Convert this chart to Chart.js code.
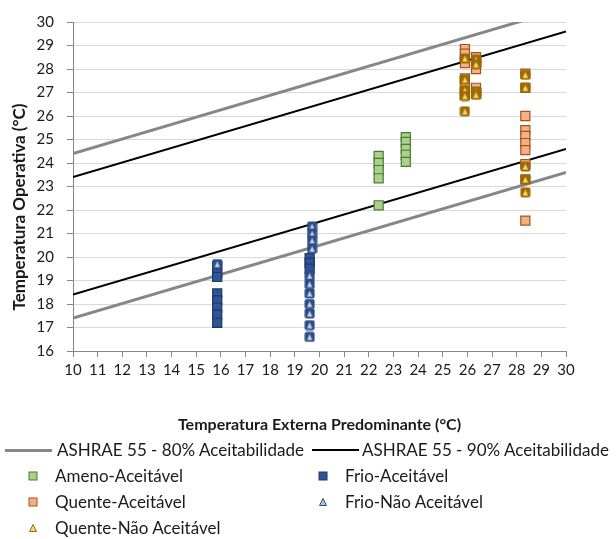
<!DOCTYPE html>
<html>
<head>
<meta charset="utf-8">
<script src="https://cdn.jsdelivr.net/npm/chart.js@4"></script>
<style>
  html, body { margin:0; padding:0; background:#fff; }
  #wrap { position:relative; width:616px; height:539px; overflow:hidden; }
  #c { position:absolute; left:0; top:0; }
  .lg { position:absolute; font-family: Lato, "Liberation Sans", sans-serif; font-size:17px; color:#1a1a1a; white-space:nowrap; line-height:20px; }
  .sym { position:absolute; }
  #ytitle { position:absolute; left:19px; top:207px; transform: translate(-50%, -50%) rotate(-90deg);
            font-family: Lato, "Liberation Sans", sans-serif; font-weight:bold; font-size:17px; color:#1a1a1a; white-space:nowrap; line-height:20px; }
</style>
</head>
<body>
<div id="wrap">
  <canvas id="c" width="616" height="539"></canvas>
  <div id="ytitle"></div>
  <div id="legend"></div>
</div>
<script>
// ---------------- DATA ----------------
const xTitle = 'Temperatura Externa Predominante (°C)';
const yTitle = 'Temperatura Operativa (°C)';

// ASHRAE 55 limit lines (end points at x = 10 and x = 30)
const limitX = [10, 30];
const ashrae80Upper = [24.4, 30.6];
const ashrae80Lower = [17.4, 23.6];
const ashrae90Upper = [23.4, 29.6];
const ashrae90Lower = [18.4, 24.6];

// Ameno-Aceitável
const amenoAceitavelX = [22.4, 22.4, 22.4, 22.4, 22.4, 23.5, 23.5, 23.5, 23.5, 23.5];
const amenoAceitavelY = [24.3, 24.0, 23.7, 23.35, 22.2, 25.1, 24.9, 24.6, 24.35, 24.05];

// Frio-Aceitável
const frioAceitavelX = [15.85, 15.85, 15.85, 15.85, 15.85, 15.85, 15.85, 15.85, 19.6, 19.6, 19.6];
const frioAceitavelY = [19.6, 19.3, 19.15, 18.45, 18.15, 17.85, 17.55, 17.2, 19.95, 19.75, 19.5];

// Quente-Aceitável
const quenteAceitavelX = [25.9, 25.9, 25.9, 25.9, 25.9, 25.9, 26.35, 26.35, 26.35, 26.35, 26.35,
                          28.35, 28.35, 28.35, 28.35, 28.35, 28.35, 28.35, 28.35, 28.35, 28.35];
const quenteAceitavelY = [28.85, 28.65, 28.25, 27.6, 27.25, 26.9, 28.5, 28.25, 28.0, 27.2, 26.95,
                          27.8, 27.2, 26.0, 25.4, 25.15, 24.85, 24.55, 23.95, 23.3, 21.55];

// Frio-Não Aceitável
const frioNaoAceitavelX = [15.85, 19.7, 19.7, 19.7, 19.7, 19.6, 19.6, 19.6, 19.6, 19.6, 19.6, 19.6];
const frioNaoAceitavelY = [19.7, 21.3, 21.0, 20.7, 20.35, 19.2, 18.85, 18.45, 18.0, 17.6, 17.1, 16.6];

// Quente-Não Aceitável
const quenteNaoAceitavelX = [25.9, 25.9, 25.9, 25.9, 25.9, 26.35, 26.35, 26.35, 26.35, 28.35, 28.35, 28.35, 28.35, 28.35];
const quenteNaoAceitavelY = [28.45, 27.55, 27.1, 26.85, 26.2, 28.4, 28.2, 27.05, 26.9, 27.75, 27.2, 23.85, 23.3, 22.75];

const seriesNames = ['ASHRAE 55 - 80% Aceitabilidade', 'ASHRAE 55 - 90% Aceitabilidade',
  'Ameno-Aceitável', 'Frio-Aceitável', 'Quente-Aceitável', 'Frio-Não Aceitável', 'Quente-Não Aceitável'];

// ---------------- HELPERS ----------------
const pts = (xs, ys) => xs.map((x, i) => ({x: x, y: ys[i]}));

function triMarker(bg, fill, stroke) {
  const s = 11;
  const cv = document.createElement('canvas');
  cv.width = s; cv.height = s;
  const g = cv.getContext('2d');
  g.fillStyle = bg;
  g.beginPath();
  if (g.roundRect) g.roundRect(0.5, 0.5, s - 1, s - 1, 2); else g.rect(0.5, 0.5, s - 1, s - 1);
  g.fill();
  g.fillStyle = fill;
  g.strokeStyle = stroke;
  g.lineWidth = 0.8;
  g.beginPath();
  g.moveTo(s / 2, 2);
  g.lineTo(s - 2.2, s - 2);
  g.lineTo(2.2, s - 2);
  g.closePath();
  g.fill();
  g.stroke();
  return cv;
}

const frioTri = triMarker('#2B4D8A', '#CDD4E0', '#2B4D8A');
const quenteTri = triMarker('#9A6A06', '#FFD95A', '#9A6A06');

const tickFont = {family: 'Lato', size: 15};
const titleFont = {family: 'Lato', size: 16, weight: 'bold'};

const lineDs = (label, ys, color, w) => ({
  type: 'scatter', label: label, data: pts(limitX, ys), showLine: true,
  borderColor: color, backgroundColor: color, borderWidth: w, pointRadius: 0, order: 10
});

const sqDs = (label, xs, ys, fill, border, order) => ({
  label: label, data: pts(xs, ys), pointStyle: 'rect', pointRadius: 6.4,
  backgroundColor: fill, borderColor: border, borderWidth: 1.2, order: order
});

const triDs = (label, xs, ys, img, order) => ({
  label: label, data: pts(xs, ys), pointStyle: img, pointRadius: 5.5,
  backgroundColor: '#000', borderColor: '#000', order: order
});

const datasets = [
  lineDs(seriesNames[0], ashrae80Upper, '#878787', 3),
  lineDs(seriesNames[0], ashrae80Lower, '#878787', 3),
  lineDs(seriesNames[1], ashrae90Upper, '#000000', 2),
  lineDs(seriesNames[1], ashrae90Lower, '#000000', 2),
  sqDs(seriesNames[2], amenoAceitavelX, amenoAceitavelY, '#A9D18E', '#4E7A2E', 5),
  sqDs(seriesNames[3], frioAceitavelX, frioAceitavelY, '#2F5597', '#1F3864', 4),
  sqDs(seriesNames[4], quenteAceitavelX, quenteAceitavelY, '#F4B183', '#A9501E', 3),
  triDs(seriesNames[5], frioNaoAceitavelX, frioNaoAceitavelY, frioTri, 2),
  triDs(seriesNames[6], quenteNaoAceitavelX, quenteNaoAceitavelY, quenteTri, 1)
];

new Chart(document.getElementById('c'), {
  type: 'scatter',
  data: {datasets: datasets},
  options: {
    responsive: false,
    animation: false,
    layout: {padding: {left: 0, right: 50, top: 20, bottom: 103}},
    plugins: {legend: {display: false}, tooltip: {enabled: false}},
    scales: {
      x: {
        type: 'linear', min: 10, max: 30,
        ticks: {stepSize: 1, font: tickFont, color: '#1a1a1a', padding: 4, maxRotation: 0, autoSkip: false},
        grid: {drawOnChartArea: false, tickColor: '#868686', tickLength: 6},
        border: {color: '#868686', width: 1},
        title: {display: true, text: xTitle, font: titleFont, color: '#1a1a1a', padding: {top: 0, bottom: 2}},
        afterFit: s => { s.height = 85; }
      },
      y: {
        type: 'linear', min: 16, max: 30,
        ticks: {stepSize: 1, font: tickFont, color: '#1a1a1a', padding: 13},
        grid: {color: '#D9D9D9', tickColor: '#868686', tickLength: 6},
        border: {color: '#868686', width: 1},
        title: {display: false, text: yTitle},
        afterFit: s => { s.width = 73; }
      }
    }
  }
});

document.getElementById('ytitle').textContent = yTitle;

// ---------------- LEGEND (HTML) ----------------
const legend = document.getElementById('legend');
const legendItems = [
  {name: seriesNames[0], kind: 'line', color: '#878787', w: 3, row: 0, col: 0},
  {name: seriesNames[1], kind: 'line', color: '#000000', w: 2, row: 0, col: 1},
  {name: seriesNames[2], kind: 'sq', fill: '#A9D18E', stroke: '#4E7A2E', row: 1, col: 0},
  {name: seriesNames[3], kind: 'sq', fill: '#2F5597', stroke: '#1F3864', row: 1, col: 1},
  {name: seriesNames[4], kind: 'sq', fill: '#F4B183', stroke: '#A9501E', row: 2, col: 0},
  {name: seriesNames[5], kind: 'tri', fill: '#B4BFD0', stroke: '#2B4D8A', row: 2, col: 1},
  {name: seriesNames[6], kind: 'tri', fill: '#FFD95A', stroke: '#9A6A06', row: 3, col: 0}
];
const rowY = [450, 476, 502, 528];
legendItems.forEach(it => {
  const cy = rowY[it.row];
  let symX, txtX;
  if (it.kind === 'line') {
    symX = it.col === 0 ? 5 : 312;
    txtX = it.col === 0 ? 57 : 362;
    const d = document.createElement('div');
    d.className = 'sym';
    d.style.cssText = `left:${symX}px;top:${cy - it.w / 2}px;width:47px;height:${it.w}px;background:${it.color}`;
    legend.appendChild(d);
  } else {
    const cx = it.col === 0 ? 33 : 323;
    txtX = it.col === 0 ? 55 : 345;
    const svg = document.createElementNS('http://www.w3.org/2000/svg', 'svg');
    svg.setAttribute('width', 12); svg.setAttribute('height', 12);
    svg.setAttribute('class', 'sym');
    svg.style.left = (cx - 6) + 'px'; svg.style.top = (cy - 6) + 'px';
    if (it.kind === 'sq') {
      svg.innerHTML = `<rect x="2" y="2" width="8" height="8" fill="${it.fill}" stroke="${it.stroke}" stroke-width="1"/>`;
    } else {
      svg.innerHTML = `<polygon points="6,2.5 9.5,9.5 2.5,9.5" fill="${it.fill}" stroke="${it.stroke}" stroke-width="1"/>`;
    }
    legend.appendChild(svg);
  }
  const t = document.createElement('div');
  t.className = 'lg';
  t.textContent = it.name;
  t.style.left = txtX + 'px';
  t.style.top = (cy - 10) + 'px';
  legend.appendChild(t);
});
</script>
</body>
</html>
